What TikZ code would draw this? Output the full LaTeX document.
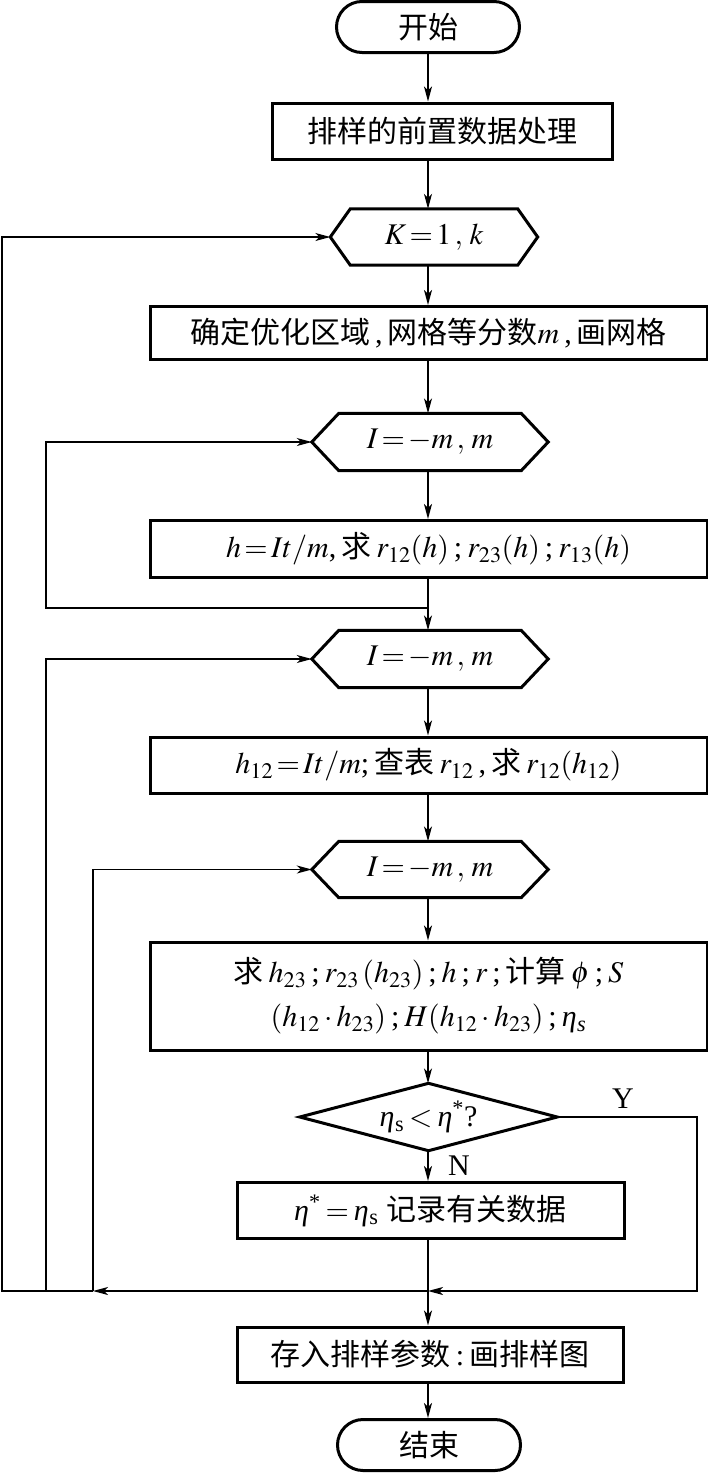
\documentclass[tikz,border=0pt]{standalone}
\usepackage{mathptmx}
\usepackage[no-math]{fontspec}
\setmainfont{Liberation Serif}
\newfontfamily\cjk{Noto Sans CJK SC}
\usetikzlibrary{arrows.meta,shapes.misc,calc}
\newcommand{\hexpath}[2]{\draw[boxline] (#1.west) -- ($(#1.north west)+(#2,0)$) -- ($(#1.north east)+(-#2,0)$) -- (#1.east) -- ($(#1.south east)+(-#2,0)$) -- ($(#1.south west)+(#2,0)$) -- cycle;}
\newcommand{\etat}{\textit{η}}
\newcommand{\etas}{\textit{η}\kern0.5pt\textsubscript{s}}
\newcommand{\etast}{\textit{η}\textsuperscript{*}}
\tikzset{
  boxline/.style={line width=3pt, line join=miter},
  txt/.style={font=\fontsize{30}{44}\selectfont, inner sep=0pt},
  box/.style={txt, draw, line width=3pt},
  term/.style={txt, draw, line width=3pt, rounded rectangle, minimum width=183pt, minimum height=51pt},
  hexn/.style={txt, draw=none, minimum height=56pt},
  conn/.style={line width=1.3pt},
  arr/.style={conn, -{Stealth[length=15pt,width=8pt,inset=4pt]}},
}
\begin{document}
\begin{tikzpicture}[x=1pt,y=-1pt]
\useasboundingbox (0,0) rectangle (708,1473);
\coordinate (sp) at (428,0);
% nodes
\node[term] (start) at (428,27) {\cjk 开始};
\node[box, minimum width=340pt, minimum height=56pt] (b1) at (442,131) {\cjk 排样的前置数据处理};
\node[hexn, minimum width=207pt] (hk) at (434,237) {$K\!=\!1\,,\,k$};
\node[box, minimum width=557pt, minimum height=53pt] (b2) at (428.5,333) {{\cjk 确定优化区域}\,,\,{\cjk 网格等分数}$m$\,,\,{\cjk 画网格}};
\node[hexn, minimum width=236pt, minimum height=57pt] (h1) at (430,442) {$I\!=\!-m\,,\,m$};
\node[box, minimum width=557pt, minimum height=57pt] (b3) at (428.5,549) {$h\!=\!It/m$,\,{\cjk 求}\,$r_{12}(h)$\,;\,$r_{23}(h)$\,;\,$r_{13}(h)$};
\node[hexn, minimum width=236pt, minimum height=57pt] (h2) at (430,659) {$I\!=\!-m\,,\,m$};
\node[box, minimum width=557pt, minimum height=56pt] (b4) at (428.5,765) {$h_{12}\!=\!It/m$;\,{\cjk 查表}\,$r_{12}$\,,\,{\cjk 求}\,$r_{12}(h_{12})$};
\node[hexn, minimum width=236pt, minimum height=56pt] (h3) at (430,869.5) {$I\!=\!-m\,,\,m$};
\node[box, minimum width=557pt, minimum height=108pt, align=center] (b5) at (428.5,996) {{\cjk 求}\,$h_{23}$\,;\,$r_{23}\,(h_{23})$\,;\,$h$\,;\,$r$\,;\,{\cjk 计算}\,$\phi$\,;\,$S$\\$(h_{12}\cdot h_{23})$\,;\,$H(h_{12}\cdot h_{23})$\,;\,\etat\kern0.5pt\textsubscript{\textit{s}}};
\node[txt, minimum width=257pt, minimum height=67pt] (dia) at (428.5,1117) {\etas\,$<$\,\etast?};
\node[box, minimum width=387pt, minimum height=56pt] (b6) at (430.5,1210.5) {\etast\,$=$\,\etas\;{\cjk 记录有关数据}};
\node[box, minimum width=386pt, minimum height=55pt] (b7) at (430,1354.5) {{\cjk 存入排样参数}\,:\,{\cjk 画排样图}};
\node[term] (end) at (429,1445) {\cjk 结束};
\node[txt] (ylab) at (623,1099) {Y};
\node[txt] (nlab) at (459,1166) {N};
% shapes
\hexpath{hk}{20}
\hexpath{h1}{27}
\hexpath{h2}{27}
\hexpath{h3}{27}
\draw[boxline] (dia.north) -- (dia.east) -- (dia.south) -- (dia.west) -- cycle;
% coordinates
\coordinate (m) at (428,1291);
\coordinate (lp1) at (428,608);
\coordinate (c1) at (46,608);
\coordinate (k3) at (93,1291);
\coordinate (k2) at (46,1291);
\coordinate (k1) at (2,1291);
\coordinate (cy) at (697,1291);
% main flow
\draw[arr] (start.south) -- (sp |- b1.north);
\draw[arr] (sp |- b1.south) -- (sp |- hk.north);
\draw[arr] (sp |- hk.south) -- (sp |- b2.north);
\draw[arr] (sp |- b2.south) -- (sp |- h1.north);
\draw[arr] (sp |- h1.south) -- (sp |- b3.north);
\draw[arr] (sp |- b3.south) -- (sp |- h2.north);
\draw[arr] (sp |- h2.south) -- (sp |- b4.north);
\draw[arr] (sp |- b4.south) -- (sp |- h3.north);
\draw[arr] (sp |- h3.south) -- (sp |- b5.north);
\draw[arr] (sp |- b5.south) -- (sp |- dia.north);
\draw[arr] (sp |- dia.south) -- (sp |- b6.north);
\draw[conn] (sp |- b6.south) -- (m);
\draw[arr] (m) -- (sp |- b7.north);
\draw[arr] (sp |- b7.south) -- (sp |- end.north);
% loops
\draw[arr] (lp1) -- (c1) |- (h1.west);
\draw[arr] (dia.east) -| (cy) -- (m);
\draw[arr] (m) -- (k3);
\draw[arr] (k3) |- (h3.west);
\draw[arr] (k3) -- (k2) |- (h2.west);
\draw[arr] (k2) -- (k1) |- (hk.west);
\end{tikzpicture}
\end{document}
